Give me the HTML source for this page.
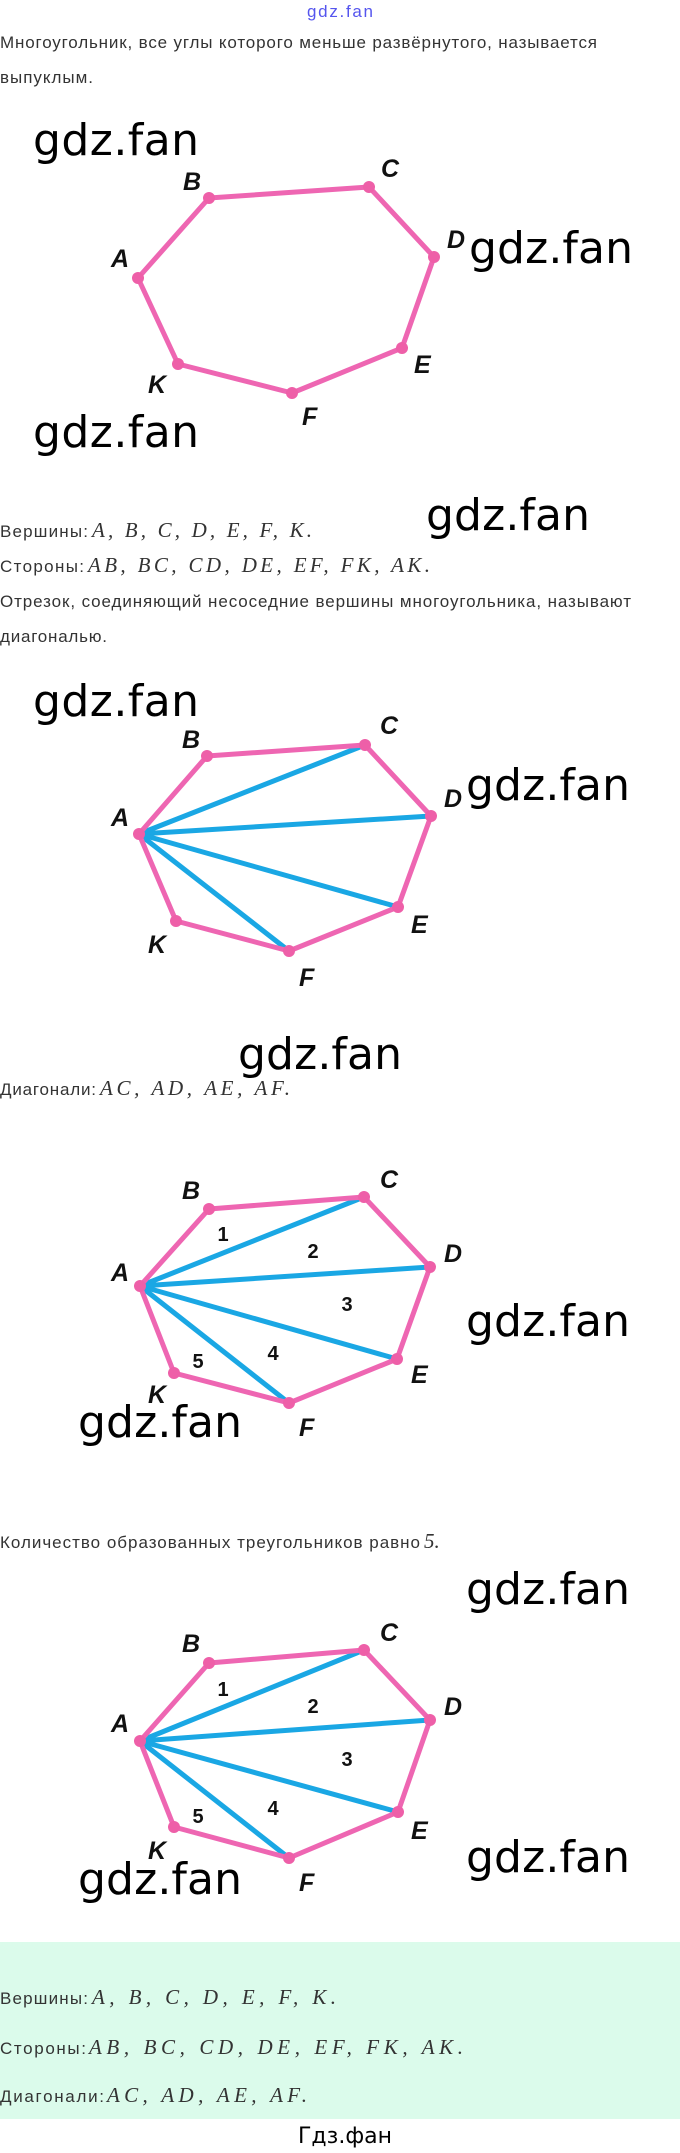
<!DOCTYPE html>
<html><head><meta charset="utf-8"><style>
html,body{margin:0;padding:0;background:#fff;}
svg{display:block;}
.t{font-family:"Liberation Sans",sans-serif;font-size:17px;fill:#333;}
.m{font-family:"Liberation Serif",serif;font-style:italic;font-size:21px;fill:#333;}
.w{font-family:"DejaVu Sans","Liberation Sans",sans-serif;font-size:44px;fill:#000;}
.l{font-family:"Liberation Sans",sans-serif;font-weight:bold;font-style:italic;font-size:25px;fill:#111;}
.n{font-family:"Liberation Sans",sans-serif;font-weight:bold;font-size:20px;fill:#111;text-anchor:middle;}
.p{fill:none;stroke:#ee66b2;stroke-width:5;stroke-linejoin:round;}
.b{stroke:#1aa7e4;stroke-width:5;}
.d{fill:#ee5fa8;}
</style></head><body>
<svg width="680" height="2153" viewBox="0 0 680 2153" xmlns="http://www.w3.org/2000/svg">
<text x="340" y="17" text-anchor="middle" font-family="Liberation Sans,sans-serif" font-size="17" fill="#5555ee" textLength="66">gdz.fan</text>
<text class="t" x="0" y="48" textLength="597">Многоугольник, все углы которого меньше развёрнутого, называется</text>
<text class="t" x="0" y="83" textLength="93">выпуклым.</text>

<!-- diagram 1 -->
<text class="w" x="33" y="155" textLength="166">gdz.fan</text>
<polygon class="p" points="138,278 209,198 369,187 434,257 402,348 292,393 178,364"/>
<g class="d"><circle cx="138" cy="278" r="6"/><circle cx="209" cy="198" r="6"/><circle cx="369" cy="187" r="6"/><circle cx="434" cy="257" r="6"/><circle cx="402" cy="348" r="6"/><circle cx="292" cy="393" r="6"/><circle cx="178" cy="364" r="6"/></g>
<text class="l" x="183" y="190">B</text><text class="l" x="381" y="177">C</text><text class="l" x="447" y="248" font-size="20">D</text><text class="l" x="111" y="267">A</text><text class="l" x="148" y="393">K</text><text class="l" x="302" y="425">F</text><text class="l" x="414" y="373">E</text>
<text class="w" x="469" y="263" textLength="164">gdz.fan</text>
<text class="w" x="33" y="447" textLength="166">gdz.fan</text>

<text class="w" x="426" y="530" textLength="164">gdz.fan</text>
<text x="0" y="537"><tspan class="t" textLength="88">Вершины:</tspan><tspan class="m" x="92" textLength="220">A,  B,  C,  D,  E,  F,  K.</tspan></text>
<text x="0" y="572"><tspan class="t" textLength="84">Стороны:</tspan><tspan class="m" x="88" textLength="342">AB,  BC,  CD,  DE,  EF,  FK,  AK.</tspan></text>
<text class="t" x="0" y="607" textLength="631">Отрезок, соединяющий несоседние вершины многоугольника, называют</text>
<text class="t" x="0" y="642" textLength="107">диагональю.</text>

<!-- diagram 2 -->
<text class="w" x="33" y="716" textLength="166">gdz.fan</text>
<g class="b"><line x1="139" y1="834" x2="365" y2="745"/><line x1="139" y1="834" x2="431" y2="816"/><line x1="139" y1="834" x2="398" y2="907"/><line x1="139" y1="834" x2="289" y2="951"/></g>
<polygon class="p" points="139,834 207,756 365,745 431,816 398,907 289,951 176,921"/>
<g class="d"><circle cx="139" cy="834" r="6"/><circle cx="207" cy="756" r="6"/><circle cx="365" cy="745" r="6"/><circle cx="431" cy="816" r="6"/><circle cx="398" cy="907" r="6"/><circle cx="289" cy="951" r="6"/><circle cx="176" cy="921" r="6"/></g>
<text class="l" x="182" y="748">B</text><text class="l" x="380" y="734">C</text><text class="l" x="444" y="807" font-size="22">D</text><text class="l" x="111" y="826">A</text><text class="l" x="148" y="953">K</text><text class="l" x="299" y="986">F</text><text class="l" x="411" y="933">E</text>
<text class="w" x="466" y="800" textLength="164">gdz.fan</text>
<text class="w" x="238" y="1069" textLength="164">gdz.fan</text>
<text x="0" y="1095"><tspan class="t" textLength="96">Диагонали:</tspan><tspan class="m" x="100" textLength="190">AC,  AD,  AE,  AF.</tspan></text>

<!-- diagram 3 -->
<g class="b"><line x1="140" y1="1286" x2="364" y2="1197"/><line x1="140" y1="1286" x2="430" y2="1267"/><line x1="140" y1="1286" x2="397" y2="1359"/><line x1="140" y1="1286" x2="289" y2="1403"/></g>
<polygon class="p" points="140,1286 209,1209 364,1197 430,1267 397,1359 289,1403 174,1373"/>
<g class="d"><circle cx="140" cy="1286" r="6"/><circle cx="209" cy="1209" r="6"/><circle cx="364" cy="1197" r="6"/><circle cx="430" cy="1267" r="6"/><circle cx="397" cy="1359" r="6"/><circle cx="289" cy="1403" r="6"/><circle cx="174" cy="1373" r="6"/></g>
<text class="l" x="182" y="1199">B</text><text class="l" x="380" y="1188">C</text><text class="l" x="444" y="1262">D</text><text class="l" x="111" y="1281">A</text><text class="l" x="148" y="1403">K</text><text class="l" x="299" y="1436">F</text><text class="l" x="411" y="1383">E</text>
<text class="n" x="223" y="1241">1</text><text class="n" x="313" y="1258">2</text><text class="n" x="347" y="1311">3</text><text class="n" x="273" y="1360">4</text><text class="n" x="198" y="1368">5</text>
<text class="w" x="466" y="1336" textLength="164">gdz.fan</text>
<text class="w" x="78" y="1437" textLength="164">gdz.fan</text>
<text x="0" y="1548"><tspan class="t" textLength="420">Количество образованных треугольников равно</tspan><tspan class="m" x="424" font-size="19">5.</tspan></text>

<!-- diagram 4 -->
<text class="w" x="466" y="1604" textLength="164">gdz.fan</text>
<g class="b"><line x1="140" y1="1741" x2="364" y2="1650"/><line x1="140" y1="1741" x2="430" y2="1720"/><line x1="140" y1="1741" x2="398" y2="1812"/><line x1="140" y1="1741" x2="289" y2="1858"/></g>
<polygon class="p" points="140,1741 209,1663 364,1650 430,1720 398,1812 289,1858 174,1827"/>
<g class="d"><circle cx="140" cy="1741" r="6"/><circle cx="209" cy="1663" r="6"/><circle cx="364" cy="1650" r="6"/><circle cx="430" cy="1720" r="6"/><circle cx="398" cy="1812" r="6"/><circle cx="289" cy="1858" r="6"/><circle cx="174" cy="1827" r="6"/></g>
<text class="l" x="182" y="1652">B</text><text class="l" x="380" y="1641">C</text><text class="l" x="444" y="1715">D</text><text class="l" x="111" y="1732">A</text><text class="l" x="148" y="1859">K</text><text class="l" x="299" y="1891">F</text><text class="l" x="411" y="1839">E</text>
<text class="n" x="223" y="1696">1</text><text class="n" x="313" y="1713">2</text><text class="n" x="347" y="1766">3</text><text class="n" x="273" y="1815">4</text><text class="n" x="198" y="1823">5</text>
<text class="w" x="466" y="1872" textLength="164">gdz.fan</text>
<text class="w" x="78" y="1894" textLength="164">gdz.fan</text>

<rect x="0" y="1942" width="680" height="177" fill="#dbfbeb"/>
<text x="0" y="2004"><tspan class="t" textLength="88">Вершины:</tspan><tspan class="m" x="92" textLength="244">A,  B,  C,  D,  E,  F,  K.</tspan></text>
<text x="0" y="2054"><tspan class="t" textLength="86">Стороны:</tspan><tspan class="m" x="89" textLength="374">AB,  BC,  CD,  DE,  EF,  FK,  AK.</tspan></text>
<text x="0" y="2102"><tspan class="t" textLength="104">Диагонали:</tspan><tspan class="m" x="107" textLength="200">AC,  AD,  AE,  AF.</tspan></text>
<text x="345" y="2143" text-anchor="middle" font-family="DejaVu Sans,Liberation Sans,sans-serif" font-size="22" fill="#000">Гдз.фан</text>
</svg>
</body></html>
